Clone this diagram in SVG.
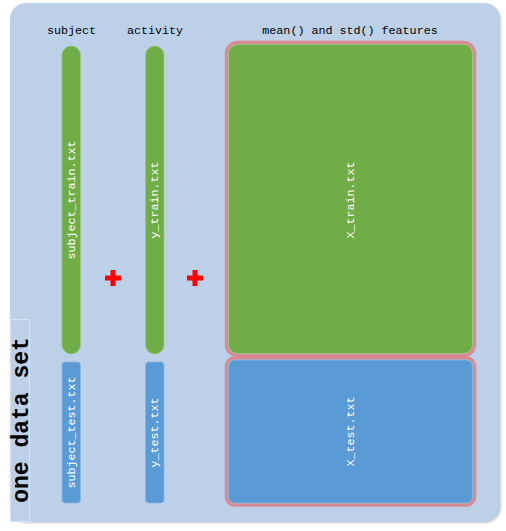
<svg xmlns="http://www.w3.org/2000/svg" width="506" height="531" viewBox="0 0 506 531">
<defs>
<style>
.hdr{font-family:"Liberation Mono","Courier New",monospace;font-size:11.7px;fill:#000;text-anchor:middle}
.lbl{font-family:"Liberation Mono","Courier New",monospace;font-size:11.7px;fill:#fff;text-anchor:middle;dominant-baseline:central}
.green{fill:#70AD47;stroke:#9cc67e;stroke-width:0.8}
.blue{fill:#5B9BD5;stroke:#8ab6df;stroke-width:0.8}
.frame{fill:none;stroke:#D9838E;stroke-width:3.5;stroke-opacity:0.9}
.plus{fill:#FF0000}
</style>
<filter id="sh" x="-5%" y="-5%" width="110%" height="110%">
<feGaussianBlur stdDeviation="1"/>
</filter>
</defs>
<rect x="0" y="0" width="506" height="531" fill="#ffffff"/>
<g id="panel">
<rect x="11" y="4" width="490" height="519" rx="16" fill="#c8c8c8" filter="url(#sh)"/>
<rect x="10" y="3" width="490" height="519" rx="16" fill="#BCD0E8"/>
</g>
<g id="label-one-data-set">
<rect x="10.5" y="319.5" width="19" height="202" fill="#BCD0E8" stroke="#d6e2f0" stroke-width="1.2"/>
<text transform="translate(28,420) rotate(-90)" font-family="'Liberation Mono','Courier New',monospace" font-size="23" font-weight="bold" fill="#000" text-anchor="middle">one data set</text>
</g>
<g id="headers">
<text class="hdr" x="71.5" y="34">subject</text>
<text class="hdr" x="155" y="34">activity</text>
<text class="hdr" x="350" y="34">mean() and std() features</text>
</g>
<g id="subject-train">
<rect class="green" x="62" y="46" width="18.5" height="308" rx="9.2"/>
<text class="lbl" transform="translate(71.5,200) rotate(-90)">subject_train.txt</text>
</g>
<g id="subject-test">
<rect class="blue" x="62" y="362" width="18.5" height="141" rx="3"/>
<text class="lbl" transform="translate(71.5,432.5) rotate(-90)">subject_test.txt</text>
</g>
<g id="y-train">
<rect class="green" x="145.5" y="46" width="18.5" height="308" rx="9.2"/>
<text class="lbl" transform="translate(155,200) rotate(-90)">y_train.txt</text>
</g>
<g id="y-test">
<rect class="blue" x="145.5" y="362" width="18.5" height="141" rx="3"/>
<text class="lbl" transform="translate(155,432.5) rotate(-90)">y_test.txt</text>
</g>
<g id="x-train">
<rect class="frame" x="226.5" y="42.5" width="248" height="313" rx="11"/>
<rect class="green" x="228.5" y="44.5" width="244" height="309" rx="9"/>
<text class="lbl" transform="translate(350.5,200) rotate(-90)">X_train.txt</text>
</g>
<g id="x-test">
<rect class="frame" x="226.5" y="358" width="248" height="147" rx="8"/>
<rect class="blue" x="228.5" y="360" width="244" height="143" rx="6"/>
<text class="lbl" transform="translate(350.5,431.5) rotate(-90)">X_test.txt</text>
</g>
<g id="connectors">
<g id="plus1">
<rect class="plus" x="105" y="275.5" width="16" height="5"/>
<rect class="plus" x="110.5" y="270" width="5" height="16"/>
</g>
<g id="plus2">
<rect class="plus" x="187" y="275.5" width="16" height="5"/>
<rect class="plus" x="192.5" y="270" width="5" height="16"/>
</g>
</g>
</svg>
